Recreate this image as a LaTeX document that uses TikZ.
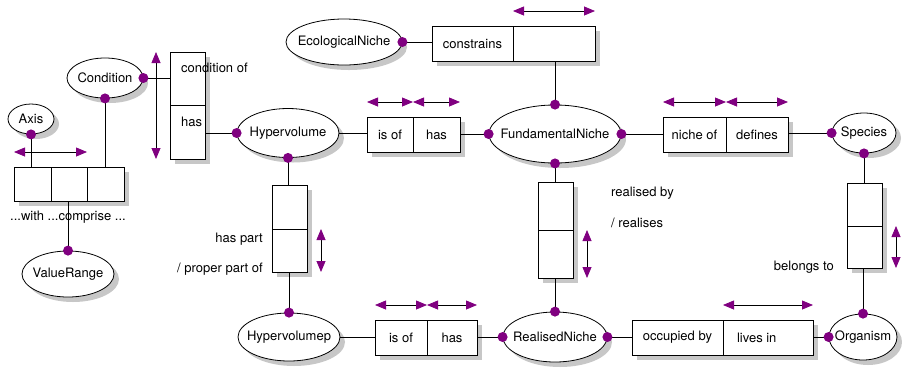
\documentclass[tikz,border=0pt]{standalone}
\usetikzlibrary{shapes.geometric, arrows.meta, positioning}
\font\diagfont="[texgyreheros-regular.otf]" at 13pt
\definecolor{dotpurple}{RGB}{128,0,128}
\definecolor{shadowgray}{rgb}{0.78,0.78,0.78}
\tikzstyle{entity} = [ellipse, draw, fill=white, line width=0.8pt, inner sep=0pt]
\tikzstyle{cell} = [rectangle, draw, fill=white, line width=0.8pt, inner sep=0pt, outer sep=0pt]
\tikzstyle{lbl} = [inner sep=0pt]
\tikzstyle{link} = [line width=0.8pt]
\tikzstyle{dblarrow} = [line width=0.8pt, >={Triangle[length=11pt, width=9pt, color=dotpurple]}, <->]

\begin{document}
\begin{tikzpicture}[x=1pt, y=1pt, font=\diagfont]
            \useasboundingbox (0,0) rectangle (902,-368);
            % shadows
            \foreach \xa/\ya/\xb/\yb in {437/-31/600/-66, 372/-122/465/-157, 668/-122/793/-157, 380/-325/482/-360, 637/-325/818/-360, 175/-57/210/-164, 277/-190/312/-277, 543/-187/578/-283, 852/-188/887/-273, 19/-172/129/-206}
                \fill [shadowgray] (\xa,\ya) rectangle (\xb,\yb);
            \foreach \cx/\cy/\rx/\ry in {349/-47/58/23, 110/-83/38/20, 36/-124/23/15, 73/-279/46/23, 293/-138/51/24.5, 560/-139/66/29, 869/-138/32/20, 294/-342/51/24, 560/-342/52/25, 868/-342/34/23}
                \fill [shadowgray] (\cx,\cy) ellipse [x radius=\rx, y radius=\ry];

            % entities
            \node [entity, minimum width=116pt, minimum height=46pt] (econiche) at (344,-42) {\makebox[0pt]{EcologicalNiche}};
            \node [entity, minimum width=76pt, minimum height=40pt] (cond) at (105,-78) {\makebox[0pt]{Condition}};
            \node [entity, minimum width=46pt, minimum height=30pt] (axis) at (31,-119) {\makebox[0pt]{Axis}};
            \node [entity, minimum width=92pt, minimum height=46pt] (vrange) at (68,-274) {\makebox[0pt]{ValueRange}};
            \node [entity, minimum width=102pt, minimum height=49pt] (hyperv) at (288,-133) {\makebox[0pt]{Hypervolume}};
            \node [entity, minimum width=132pt, minimum height=58pt] (fn) at (555,-134) {\makebox[0pt]{FundamentalNiche}};
            \node [entity, minimum width=64pt, minimum height=40pt] (species) at (864,-133) {\makebox[0pt]{Species}};
            \node [entity, minimum width=102pt, minimum height=48pt] (hvp) at (289,-337) {\makebox[0pt]{Hypervolumep}};
            \node [entity, minimum width=104pt, minimum height=50pt] (rn) at (555,-337) {\makebox[0pt]{RealisedNiche}};
            \node [entity, minimum width=68pt, minimum height=46pt] (org) at (863,-337) {\makebox[0pt]{Organism}};

            % relationship boxes
            \node [cell, minimum width=81pt, minimum height=35pt, anchor=north west] (constr) at (432,-26) {constrains};
            \node [cell, minimum width=82pt, minimum height=35pt, right=0pt of constr] (constrb) {};
            \node [cell, minimum width=46pt, minimum height=35pt, anchor=north west] (isofa) at (367,-117) {is of};
            \node [cell, minimum width=47pt, minimum height=35pt, right=0pt of isofa] (hasa) {has};
            \node [cell, minimum width=63pt, minimum height=35pt, anchor=north west] (nicheof) at (663,-117) {niche of};
            \node [cell, minimum width=62pt, minimum height=35pt, right=0pt of nicheof] (defines) {defines};
            \node [cell, minimum width=52pt, minimum height=35pt, anchor=north west] (isofb) at (375,-320) {is of};
            \node [cell, minimum width=50pt, minimum height=35pt, right=0pt of isofb] (hasb) {has};
            \node [cell, minimum width=91pt, minimum height=35pt, anchor=north west] (occby) at (632,-320) {occupied by};
            \node [cell, minimum width=90pt, minimum height=35pt, right=0pt of occby] (livesin) {\makebox[62pt][l]{lives in}};
            \node [cell, minimum width=35pt, minimum height=53pt, anchor=north west] (condof) at (170,-52) {};
            \node [cell, minimum width=35pt, minimum height=54pt, below=0pt of condof] (condhas) {};
            \node [cell, minimum width=35pt, minimum height=44pt, anchor=north west] (hpa) at (272,-185) {};
            \node [cell, minimum width=35pt, minimum height=43pt, below=0pt of hpa] (hpb) {};
            \node [cell, minimum width=35pt, minimum height=48pt, anchor=north west] (rla) at (538,-182) {};
            \node [cell, minimum width=35pt, minimum height=48pt, below=0pt of rla] (rlb) {};
            \node [cell, minimum width=35pt, minimum height=43pt, anchor=north west] (bga) at (847,-183) {};
            \node [cell, minimum width=35pt, minimum height=42pt, below=0pt of bga] (bgb) {};
            \node [cell, minimum width=37pt, minimum height=34pt, anchor=north west] (tca) at (14,-167) {};
            \node [cell, minimum width=36pt, minimum height=34pt, right=0pt of tca] (tcb) {};
            \node [cell, minimum width=37pt, minimum height=34pt, right=0pt of tcb] (tcc) {};

            % role names
            \node [lbl, anchor=west] (condoflbl) at (181,-68) {condition of};
            \node [lbl, anchor=west] (condhaslbl) at (181,-122) {has};
            \node [lbl, anchor=east] (hplbl) at (263,-239) {has part};
            \node [lbl, anchor=east] (pplbl) at (263,-269) {/ proper part of};
            \node [lbl, anchor=west] (rlbylbl) at (611,-193) {realised by};
            \node [lbl, anchor=west] (rlslbl) at (611,-223) {/ realises};
            \node [lbl, anchor=east] (bglbl) at (834,-267) {belongs to};
            \node [lbl] (wclbl) at (68,-217) {...with ...comprise ...};

            % connectors
            \draw [link] (econiche.east) -- (econiche.east -| constr.west);
            \draw [link] (fn.north) -- (fn.north |- constrb.south);
            \draw [link] (hyperv.east) -- (hyperv.east -| isofa.west);
            \draw [link] (hasa.east |- fn.west) -- (fn.west);
            \draw [link] (fn.east) -- (fn.east -| nicheof.west);
            \draw [link] (defines.east |- species.west) -- (species.west);
            \draw [link] (cond.east) -- (cond.east -| condof.west);
            \draw [link] (condhas.east |- hyperv.west) -- (hyperv.west);
            \draw [link] (cond.south) -- (cond.south |- tcc.north);
            \draw [link] (axis.south) -- (axis.south |- tca.north);
            \draw [link] (vrange.north) -- (vrange.north |- tcb.south);
            \draw [link] (hyperv.south) -- (hyperv.south |- hpa.north);
            \draw [link] (hvp.north) -- (hvp.north |- hpb.south);
            \draw [link] (fn.south) -- (fn.south |- rla.north);
            \draw [link] (rn.north) -- (rn.north |- rlb.south);
            \draw [link] (species.south) -- (species.south |- bga.north);
            \draw [link] (org.north) -- (org.north |- bgb.south);
            \draw [link] (hvp.east) -- (hvp.east -| isofb.west);
            \draw [link] (hasb.east |- rn.west) -- (rn.west);
            \draw [link] (rn.east) -- (rn.east -| occby.west);
            \draw [link] (livesin.east |- org.west) -- (org.west);

            % reading direction arrows
            \foreach \c in {constrb, isofa, hasa, nicheof, defines, isofb, hasb, livesin}
                \draw [dblarrow] ([yshift=15pt]\c.north west) -- ([yshift=15pt]\c.north east);
            \draw [dblarrow] ([yshift=15pt]tca.north west) -- ([yshift=15pt]tcb.north east);
            \draw [dblarrow] ([xshift=-14pt]condof.north west) -- ([xshift=-14pt]condhas.south west);
            \foreach \c in {hpb, rlb, bgb}
                \draw [dblarrow] ([xshift=14pt]\c.north east) -- ([xshift=14pt]\c.south east);

            % role dots
            \foreach \p in {econiche.east, cond.east, cond.south, axis.south, vrange.north, hyperv.west, hyperv.south, fn.west, fn.east, fn.north, fn.south, species.west, species.south, hvp.north, rn.west, rn.east, rn.north, org.west, org.north}
                \fill [dotpurple] (\p) circle (5pt);
\end{tikzpicture}
\end{document}
